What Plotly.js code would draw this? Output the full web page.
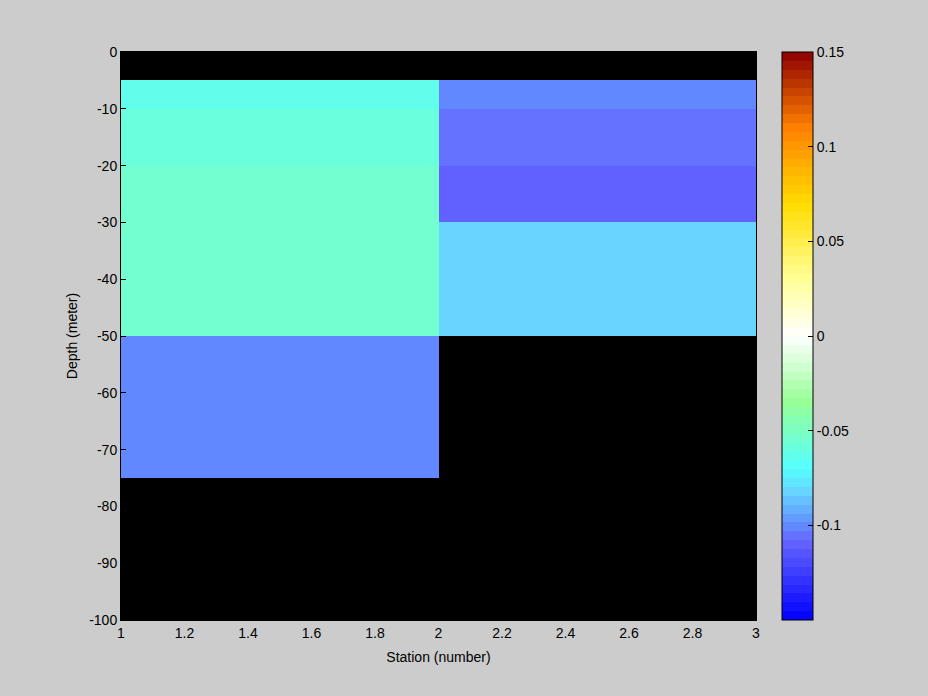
<!DOCTYPE html>
<html>
<head>
<meta charset="utf-8">
<script src="https://cdn.plot.ly/plotly-3.0.1.min.js"></script>
<style>html,body{margin:0;padding:0;background:#cccccc;}#chart{width:928px;height:696px;}</style>
</head>
<body>
<div id="chart"></div>
<script>
// ---- data ----
var stationEdges = [1, 2, 3];
var depthEdges = [0, -5, -10, -20, -30, -50, -75, -100];
// rows: depth layers (top to bottom), columns: station 1, station 2
var layer0 = [null, null];
var layer1 = [-0.062, -0.100];
var layer2 = [-0.058, -0.104];
var layer3 = [-0.053, -0.109];
var layer4 = [-0.053, -0.080];
var layer5 = [-0.100, null];
var layer6 = [null, null];
var xTicks = [1, 1.2, 1.4, 1.6, 1.8, 2, 2.2, 2.4, 2.6, 2.8, 3];
var yTicks = [0, -10, -20, -30, -40, -50, -60, -70, -80, -90, -100];
var cbTicks = [0.15, 0.1, 0.05, 0, -0.05, -0.1];
var cmin = -0.15, cmax = 0.15;

// ---- colormap anchors (value, rgb) ----
var anchors = [
  [-0.15, [0, 0, 255]],
  [-0.108, [102, 102, 255]],
  [-0.100, [98, 140, 255]],
  [-0.080, [102, 221, 255]],
  [-0.070, [85, 255, 255]],
  [-0.035, [150, 255, 150]],
  [0.000, [255, 255, 255]],
  [0.030, [255, 255, 150]],
  [0.070, [255, 220, 0]],
  [0.110, [255, 128, 0]],
  [0.150, [140, 0, 0]]
];
function colorAt(v) {
  for (var i = 0; i < anchors.length - 1; i++) {
    var a = anchors[i], b = anchors[i + 1];
    if (v <= b[0] || i === anchors.length - 2) {
      var t = (v - a[0]) / (b[0] - a[0]);
      t = Math.max(0, Math.min(1, t));
      var c = a[1].map(function (x, k) { return Math.round(x + (b[1][k] - x) * t); });
      return 'rgb(' + c.join(',') + ')';
    }
  }
}
var nBands = 64;
var colorscale = [];
for (var i = 0; i < nBands; i++) {
  var v = cmin + (i + 0.5) * (cmax - cmin) / nBands;
  var col = colorAt(v);
  colorscale.push([i / nBands, col]);
  colorscale.push([(i + 1) / nBands, col]);
}

var z = [layer0, layer1, layer2, layer3, layer4, layer5, layer6];

var font = {family: 'Liberation Sans, Arial, sans-serif', size: 14, color: '#000'};

// left-side colorbar ticks as shapes
var cbX0 = 1.041;
var shapes = cbTicks.filter(function (t) { return t > cmin && t < cmax; }).map(function (t) {
  var yf = (t - cmin) / (cmax - cmin);
  return {type: 'line', xref: 'paper', yref: 'paper', x0: cbX0, x1: cbX0 + 5 / 635, y0: yf, y1: yf,
          line: {color: '#000', width: 1}};
});

var trace = {
  type: 'heatmap',
  x: stationEdges,
  y: depthEdges,
  z: z,
  zmin: cmin, zmax: cmax,
  colorscale: colorscale,
  hoverongaps: false,
  colorbar: {
    x: cbX0, xanchor: 'left', xref: 'paper',
    y: 0.5, yanchor: 'middle', len: 1, lenmode: 'fraction',
    thickness: 31, thicknessmode: 'pixels',
    outlinecolor: '#000', outlinewidth: 1,
    tickvals: cbTicks, ticktext: cbTicks.map(String),
    ticks: 'inside', ticklen: 5, tickcolor: '#000',
    tickfont: font, xpad: 0, ypad: 0, borderwidth: 0
  }
};

var layout = {
  width: 928, height: 696,
  paper_bgcolor: '#cccccc', plot_bgcolor: '#000000',
  margin: {l: 121, r: 172, t: 52, b: 76},
  font: font,
  showlegend: false,
  xaxis: {
    range: [1, 3], tickvals: xTicks, ticktext: xTicks.map(String),
    showgrid: false, zeroline: false, ticks: 'inside', ticklen: 5, tickcolor: '#000',
    showline: true, linecolor: '#000', mirror: true,
    title: {text: 'Station (number)', font: font, standoff: 12},
    tickfont: font
  },
  yaxis: {
    range: [-100, 0], tickvals: yTicks, ticktext: yTicks.map(String),
    showgrid: false, zeroline: false, ticks: 'inside', ticklen: 5, tickcolor: '#000',
    showline: true, linecolor: '#000', mirror: true,
    title: {text: 'Depth (meter)', font: font, standoff: 8},
    tickfont: font
  },
  shapes: shapes
};

Plotly.newPlot('chart', [trace], layout, {displayModeBar: false, staticPlot: true});
</script>
</body>
</html>
